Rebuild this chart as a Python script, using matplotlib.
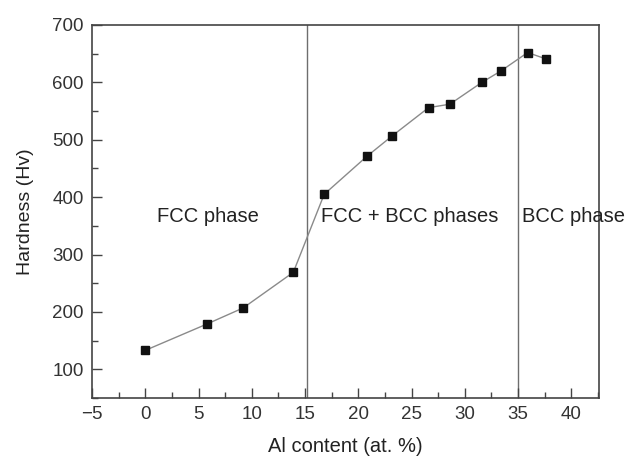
import matplotlib
matplotlib.use("Agg")
import matplotlib.pyplot as plt
from matplotlib.ticker import MultipleLocator

plt.rcParams['font.family'] = ['Liberation Sans', 'DejaVu Sans']

al_content = [0.0, 5.8, 9.2, 13.9, 16.8, 20.8, 23.2, 26.6, 28.6, 31.6, 33.4, 35.9, 37.6]
hardness = [133, 179, 207, 269, 405, 471, 507, 556, 562, 600, 620, 652, 641]
phase_bounds = [15.2, 35.0]
phase_labels = ["FCC phase", "FCC + BCC phases", "BCC phase"]
phase_label_x = [1.1, 16.5, 35.4]
phase_label_y = 366

fig = plt.figure(figsize=(6.27, 4.57), dpi=100)
ax = fig.add_axes([92/627, 1-398/457, (599-92)/627, (398-25)/457])

ax.plot(al_content, hardness, color='#8a8a8a', lw=1.0, zorder=2)
ax.plot(al_content, hardness, ls='none', marker='s', ms=5.5, color='#111111', zorder=3)

for b in phase_bounds:
    ax.axvline(b, color='#6e6e6e', lw=1.0, zorder=1)

for lbl, xx in zip(phase_labels, phase_label_x):
    ax.text(xx, phase_label_y, lbl, fontsize=14.5, color='#222222', ha='left', va='center', clip_on=False)

ax.set_xlim(-5, 42.6)
ax.set_ylim(50, 700)
ax.xaxis.set_major_locator(MultipleLocator(5))
ax.xaxis.set_minor_locator(MultipleLocator(2.5))
ax.yaxis.set_major_locator(MultipleLocator(100))
ax.yaxis.set_minor_locator(MultipleLocator(50))
ax.set_yticks([100, 200, 300, 400, 500, 600, 700])

ax.tick_params(which='major', direction='in', length=7, width=1.0, color='#444444',
               labelsize=13.5, labelcolor='#333333', top=False, right=False, pad=6)
ax.tick_params(which='minor', direction='in', length=4, width=1.0, color='#444444',
               top=False, right=False)

for s in ax.spines.values():
    s.set_color('#444444')
    s.set_linewidth(1.2)

ax.set_xlabel("Al content (at. %)", fontsize=14.5, color='#222222', labelpad=10)
ax.set_ylabel("Hardness (Hv)", fontsize=14, color='#222222', labelpad=13)

fig.savefig("out.png", dpi=100)
